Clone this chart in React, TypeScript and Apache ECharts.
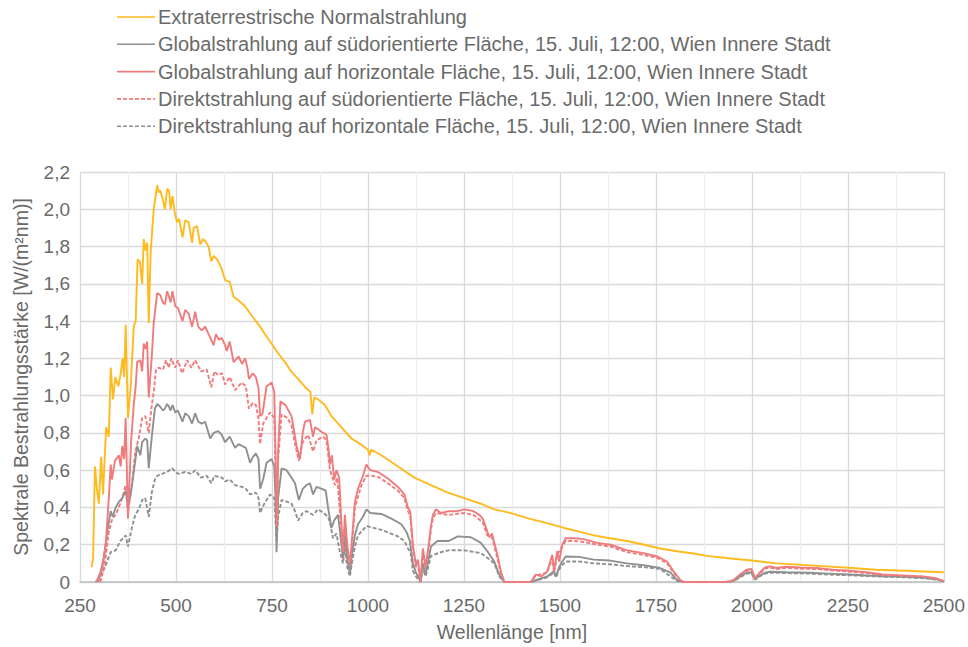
import React, { useEffect, useRef } from "react";
import * as echarts from "echarts";

type P = [number, number][];

const seriesNames = [
  "Extraterrestrische Normalstrahlung",
  "Globalstrahlung auf südorientierte Fläche, 15. Juli, 12:00, Wien Innere Stadt",
  "Globalstrahlung auf horizontale Fläche, 15. Juli, 12:00, Wien Innere Stadt",
  "Direktstrahlung auf südorientierte Fläche, 15. Juli, 12:00, Wien Innere Stadt",
  "Direktstrahlung auf horizontale Fläche, 15. Juli, 12:00, Wien Innere Stadt",
];

const xTicks = [250, 500, 750, 1000, 1250, 1500, 1750, 2000, 2250, 2500];
const yTicks = [0, 0.2, 0.4, 0.6, 0.8, 1.0, 1.2, 1.4, 1.6, 1.8, 2.0, 2.2];

const extraterrestrial: P = [
  [280,0.08],[284,0.12],[289,0.62],[294,0.50],[299,0.42],[305,0.67],[310,0.47],[318,0.83],[325,0.78],[330,1.15],[336,0.98],[342,1.10],[350,1.05],[356,1.12],[361,1.20],[365,1.10],[369,1.38],[375,0.88],[382,1.05],[390,1.37],[395,1.40],[400,1.73],[406,1.72],[412,1.60],[416,1.84],[420,1.78],[425,1.82],[429,1.39],[434,1.77],[442,2.0],[451,2.13],[455,2.09],[459,2.10],[466,2.05],[471,2.00],[477,2.11],[482,2.10],[486,2.00],[491,2.07],[497,1.98],[503,1.93],[508,1.95],[517,1.85],[524,1.94],[533,1.93],[542,1.82],[546,1.90],[555,1.91],[563,1.81],[570,1.84],[576,1.83],[585,1.80],[592,1.72],[598,1.75],[608,1.73],[619,1.68],[628,1.62],[640,1.61],[650,1.53],[663,1.51],[680,1.48],[697,1.43],[719,1.37],[735,1.32],[749,1.28],[765,1.23],[784,1.18],[800,1.13],[818,1.09],[839,1.04],[850,1.02],[855,0.90],[860,0.99],[870,0.98],[888,0.95],[905,0.89],[931,0.83],[957,0.77],[980,0.74],[1000,0.71],[1004,0.68],[1008,0.71],[1035,0.68],[1078,0.62],[1121,0.56],[1164,0.52],[1208,0.48],[1251,0.45],[1294,0.42],[1329,0.39],[1372,0.37],[1420,0.34],[1459,0.32],[1511,0.29],[1550,0.27],[1588,0.25],[1630,0.235],[1675,0.22],[1720,0.20],[1761,0.18],[1805,0.165],[1848,0.153],[1882,0.14],[1952,0.125],[2000,0.115],[2064,0.10],[2130,0.092],[2194,0.084],[2260,0.075],[2324,0.066],[2400,0.06],[2500,0.052],
];

const globalSouth: P = [
  [293,0],[303,0.05],[312,0.13],[321,0.27],[330,0.38],[335,0.35],[343,0.40],[351,0.43],[360,0.45],[369,0.49],[375,0.40],[382,0.47],[390,0.59],[399,0.73],[407,0.68],[412,0.75],[420,0.77],[425,0.76],[429,0.61],[437,0.78],[445,0.93],[451,0.955],[459,0.94],[466,0.92],[471,0.93],[477,0.955],[482,0.94],[486,0.92],[491,0.95],[498,0.91],[505,0.92],[517,0.86],[524,0.905],[533,0.89],[542,0.85],[550,0.905],[558,0.86],[567,0.85],[576,0.86],[589,0.77],[598,0.80],[610,0.81],[619,0.79],[628,0.75],[640,0.78],[654,0.72],[663,0.74],[672,0.73],[682,0.72],[693,0.64],[700,0.67],[708,0.69],[715,0.66],[719,0.50],[727,0.55],[736,0.64],[749,0.66],[756,0.62],[760,0.40],[762,0.16],[766,0.45],[775,0.61],[788,0.60],[801,0.56],[810,0.53],[820,0.44],[830,0.50],[840,0.52],[849,0.53],[857,0.47],[866,0.51],[880,0.50],[890,0.49],[896,0.40],[905,0.29],[912,0.33],[922,0.36],[930,0.22],[935,0.13],[940,0.25],[946,0.12],[953,0.048],[958,0.14],[966,0.25],[974,0.31],[987,0.35],[996,0.39],[1006,0.37],[1035,0.365],[1061,0.34],[1087,0.31],[1100,0.27],[1109,0.22],[1117,0.10],[1125,0.05],[1131,0.03],[1137,0],[1143,0.10],[1150,0.04],[1157,0.11],[1164,0.19],[1181,0.22],[1210,0.22],[1234,0.245],[1268,0.24],[1294,0.21],[1311,0.165],[1329,0.11],[1342,0.04],[1355,0],[1424,0],[1441,0.012],[1467,0.03],[1484,0.057],[1490,0.03],[1497,0.075],[1506,0.11],[1515,0.137],[1550,0.135],[1588,0.12],[1630,0.115],[1675,0.10],[1718,0.09],[1761,0.075],[1788,0.05],[1805,0.01],[1822,0],[1934,0],[1952,0.006],[1969,0.03],[1986,0.05],[1999,0.052],[2008,0.015],[2020,0.035],[2034,0.05],[2047,0.055],[2090,0.052],[2150,0.05],[2200,0.045],[2254,0.04],[2300,0.035],[2350,0.03],[2400,0.028],[2450,0.022],[2480,0.015],[2500,0.004],
];

const globalHorizontal: P = [
  [290,0],[300,0.02],[308,0.075],[317,0.2],[325,0.45],[330,0.63],[333,0.55],[341,0.65],[351,0.68],[356,0.62],[360,0.73],[365,0.66],[369,0.88],[375,0.34],[383,0.75],[390,0.95],[395,1.05],[399,1.18],[407,1.19],[412,1.13],[416,1.28],[421,1.25],[425,1.29],[429,0.99],[437,1.21],[442,1.39],[451,1.55],[459,1.54],[466,1.50],[471,1.49],[477,1.56],[482,1.53],[486,1.50],[491,1.56],[498,1.48],[505,1.47],[517,1.40],[524,1.46],[533,1.44],[542,1.37],[550,1.45],[558,1.37],[567,1.35],[576,1.37],[585,1.33],[592,1.30],[598,1.27],[604,1.33],[612,1.30],[619,1.31],[628,1.27],[632,1.24],[640,1.29],[650,1.18],[663,1.21],[672,1.17],[680,1.20],[686,1.15],[690,1.09],[700,1.12],[708,1.10],[715,1.04],[719,0.89],[725,0.90],[736,1.05],[749,1.07],[756,1.02],[760,0.60],[763,0.30],[766,0.70],[772,0.97],[785,0.95],[801,0.89],[810,0.78],[814,0.73],[823,0.66],[830,0.80],[836,0.86],[849,0.87],[857,0.78],[862,0.83],[870,0.82],[883,0.80],[892,0.79],[897,0.72],[901,0.63],[906,0.68],[912,0.55],[918,0.60],[925,0.56],[930,0.35],[935,0.16],[940,0.36],[946,0.20],[953,0.09],[958,0.22],[966,0.43],[974,0.50],[987,0.57],[996,0.63],[1006,0.60],[1026,0.59],[1052,0.555],[1078,0.51],[1095,0.47],[1104,0.40],[1110,0.38],[1117,0.20],[1125,0.09],[1130,0.12],[1137,0.0],[1143,0.18],[1150,0.08],[1157,0.18],[1164,0.30],[1169,0.36],[1177,0.39],[1190,0.37],[1210,0.38],[1234,0.38],[1251,0.39],[1275,0.38],[1290,0.36],[1299,0.34],[1311,0.27],[1316,0.24],[1323,0.26],[1333,0.18],[1340,0.12],[1346,0.057],[1355,0],[1424,0],[1437,0.04],[1452,0.03],[1467,0.057],[1480,0.146],[1485,0.06],[1493,0.165],[1498,0.11],[1506,0.2],[1515,0.235],[1536,0.235],[1562,0.23],[1597,0.21],[1632,0.20],[1675,0.17],[1718,0.155],[1753,0.137],[1779,0.11],[1796,0.057],[1813,0.012],[1822,0],[1934,0],[1952,0.01],[1969,0.04],[1986,0.066],[1999,0.07],[2008,0.02],[2020,0.05],[2034,0.078],[2047,0.084],[2064,0.075],[2090,0.082],[2125,0.078],[2168,0.075],[2211,0.066],[2254,0.06],[2297,0.052],[2341,0.04],[2393,0.035],[2445,0.03],[2480,0.02],[2500,0.005],
];

const directSouth: P = [
  [303,0],[315,0.1],[325,0.27],[334,0.34],[343,0.36],[351,0.40],[360,0.45],[369,0.52],[375,0.37],[386,0.54],[394,0.70],[403,0.77],[412,0.88],[420,0.89],[429,0.80],[437,0.95],[442,1.02],[448,1.14],[455,1.15],[466,1.14],[474,1.19],[481,1.15],[488,1.20],[498,1.15],[505,1.19],[516,1.12],[529,1.19],[540,1.15],[550,1.19],[565,1.13],[580,1.14],[592,1.045],[600,1.13],[610,1.11],[620,1.12],[628,1.06],[640,1.10],[654,1.03],[671,1.07],[682,1.05],[690,0.93],[700,0.96],[708,0.95],[715,0.875],[719,0.74],[727,0.85],[745,0.91],[756,0.88],[760,0.55],[763,0.28],[766,0.66],[775,0.90],[790,0.88],[801,0.84],[810,0.74],[820,0.65],[830,0.75],[844,0.79],[857,0.70],[866,0.76],[883,0.78],[892,0.76],[901,0.60],[914,0.52],[920,0.56],[928,0.35],[935,0.12],[940,0.30],[946,0.15],[953,0.07],[958,0.18],[966,0.40],[983,0.52],[996,0.57],[1006,0.57],[1026,0.565],[1052,0.53],[1078,0.49],[1095,0.45],[1104,0.38],[1110,0.36],[1117,0.18],[1125,0.08],[1130,0.10],[1137,0],[1143,0.16],[1150,0.07],[1157,0.16],[1164,0.28],[1169,0.34],[1177,0.37],[1210,0.36],[1251,0.37],[1275,0.36],[1299,0.32],[1311,0.25],[1323,0.24],[1333,0.16],[1346,0.05],[1355,0],[1424,0],[1437,0.035],[1467,0.05],[1480,0.13],[1485,0.05],[1493,0.15],[1506,0.19],[1515,0.22],[1536,0.22],[1562,0.215],[1597,0.20],[1632,0.19],[1675,0.16],[1718,0.145],[1753,0.13],[1779,0.10],[1796,0.05],[1813,0.01],[1822,0],[1934,0],[1952,0.008],[1969,0.035],[1986,0.06],[1999,0.065],[2008,0.018],[2020,0.045],[2034,0.072],[2047,0.078],[2064,0.07],[2090,0.076],[2125,0.072],[2168,0.07],[2211,0.062],[2254,0.056],[2297,0.048],[2341,0.037],[2393,0.032],[2445,0.028],[2480,0.018],[2500,0.004],
];

const directHorizontal: P = [
  [296,0],[306,0.04],[317,0.09],[330,0.16],[343,0.17],[355,0.22],[369,0.25],[375,0.19],[386,0.30],[394,0.36],[403,0.39],[412,0.44],[420,0.45],[429,0.35],[437,0.48],[445,0.55],[451,0.57],[463,0.58],[477,0.59],[490,0.61],[505,0.58],[524,0.59],[540,0.58],[550,0.60],[565,0.56],[580,0.57],[592,0.53],[600,0.57],[620,0.56],[628,0.54],[640,0.55],[654,0.52],[672,0.51],[682,0.50],[693,0.47],[708,0.48],[715,0.45],[719,0.37],[730,0.42],[745,0.47],[756,0.45],[760,0.30],[762,0.22],[766,0.35],[775,0.44],[790,0.43],[801,0.42],[810,0.38],[818,0.33],[830,0.37],[840,0.38],[857,0.36],[870,0.39],[885,0.37],[896,0.35],[901,0.32],[909,0.235],[918,0.26],[926,0.17],[935,0.10],[940,0.18],[946,0.08],[953,0.03],[958,0.10],[966,0.19],[974,0.25],[996,0.30],[1035,0.28],[1078,0.245],[1095,0.22],[1104,0.18],[1111,0.16],[1117,0.06],[1125,0.03],[1137,0],[1143,0.07],[1150,0.03],[1157,0.08],[1164,0.14],[1190,0.16],[1210,0.17],[1251,0.17],[1294,0.155],[1311,0.13],[1329,0.10],[1342,0.03],[1355,0],[1424,0],[1441,0.01],[1467,0.025],[1484,0.05],[1490,0.025],[1497,0.065],[1506,0.09],[1515,0.11],[1550,0.11],[1588,0.10],[1630,0.095],[1675,0.085],[1718,0.08],[1761,0.07],[1788,0.03],[1805,0.005],[1822,0],[1934,0],[1952,0.005],[1969,0.025],[1986,0.045],[1999,0.048],[2008,0.012],[2020,0.03],[2034,0.045],[2047,0.05],[2090,0.048],[2150,0.045],[2200,0.04],[2254,0.036],[2300,0.032],[2350,0.028],[2400,0.025],[2450,0.02],[2480,0.013],[2500,0.003],
];

const YELLOW = "#FFBA1E";
const GRAY = "#909090";
const RED = "#F07B7D";
const TEXT = "#6A6A6A";
const FONT = "'Liberation Sans', Arial, sans-serif";

const seriesColors = [YELLOW, GRAY, RED, RED, GRAY];
const seriesDashed = [false, false, false, true, true];

export default function App() {
  const ref = useRef<HTMLDivElement>(null);

  useEffect(() => {
    document.body.style.margin = "0";
    if (!ref.current) return;
    const chart = echarts.init(ref.current, undefined, { renderer: "svg" });
    const mk = (i: number, data: P, z: number) => ({
      name: seriesNames[i],
      type: "line",
      data,
      symbol: "none",
      showSymbol: false,
      z,
      lineStyle: { color: seriesColors[i], width: 1.9, type: seriesDashed[i] ? [4, 2] : "solid" },
      itemStyle: { color: seriesColors[i] },
    });

    // legend drawn as graphic: a line sample and the series name per row
    const legendItems: any[] = [];
    seriesNames.forEach((name, i) => {
      const y = 17 + i * 27.3;
      legendItems.push({
        type: "line",
        shape: { x1: 117, y1: y, x2: 155, y2: y },
        style: {
          stroke: seriesColors[i],
          lineWidth: 1.6,
          lineDash: seriesDashed[i] ? [4, 2] : null,
        },
      });
      legendItems.push({
        type: "text",
        x: 158,
        y,
        style: {
          text: name,
          fill: TEXT,
          fontSize: 20,
          fontFamily: FONT,
          verticalAlign: "middle",
          align: "left",
        },
      });
    });

    chart.setOption({
      animation: false,
      textStyle: { fontFamily: FONT },
      graphic: legendItems,
      grid: { left: 80, right: 19, top: 172, bottom: 63, containLabel: false },
      xAxis: {
        type: "value",
        min: xTicks[0],
        max: xTicks[xTicks.length - 1],
        interval: 250,
        name: "Wellenlänge [nm]",
        nameLocation: "middle",
        nameGap: 40,
        nameTextStyle: { color: TEXT, fontSize: 19.5, fontFamily: FONT },
        axisLine: { show: true, lineStyle: { color: "#BFBFBF", width: 1.5 } },
        axisTick: { show: false },
        axisLabel: {
          color: TEXT,
          fontSize: 19,
          fontFamily: FONT,
          margin: 14,
          formatter: (v: number) => String(v),
        },
        splitLine: { show: true, lineStyle: { color: "#D9D9D9", width: 1.3 } },
        minorTick: { show: false, splitNumber: 2 },
        minorSplitLine: { show: true, lineStyle: { color: "#EEEEEE", width: 1.3 } },
      },
      yAxis: {
        type: "value",
        min: 0,
        max: yTicks[yTicks.length - 1],
        interval: 0.2,
        name: "Spektrale Bestrahlungsstärke [W/(m²nm)]",
        nameLocation: "middle",
        nameGap: 49,
        nameRotate: 90,
        nameTextStyle: { color: TEXT, fontSize: 19.5, fontFamily: FONT },
        axisLine: { show: false },
        axisTick: { show: false },
        axisLabel: {
          color: TEXT,
          fontSize: 19,
          fontFamily: FONT,
          margin: 10,
          formatter: (v: number) => (Math.abs(v) < 1e-9 ? "0" : v.toFixed(1).replace(".", ",")),
        },
        splitLine: { show: true, lineStyle: { color: "#D9D9D9", width: 1.3 } },
      },
      series: [
        mk(0, extraterrestrial, 5),
        mk(1, globalSouth, 3),
        mk(2, globalHorizontal, 4),
        mk(3, directSouth, 2),
        mk(4, directHorizontal, 1),
      ],
    });
    return () => chart.dispose();
  }, []);

  return <div ref={ref} style={{ width: 968, height: 647 }} />;
}
